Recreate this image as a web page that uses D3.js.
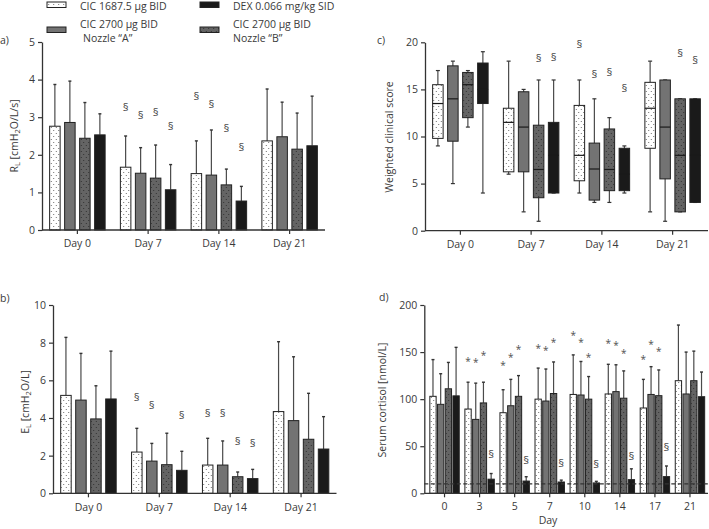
<!DOCTYPE html>
<html><head><meta charset="utf-8">
<script src="https://cdn.jsdelivr.net/npm/d3@7"></script>
<style>
html,body{margin:0;padding:0;background:#fff;}
svg{display:block;font-family:"Open Sans",sans-serif;}
</style></head>
<body>
<svg id="chart" width="709" height="529"></svg>
<script>
// ---------------- DATA ----------------
const seriesNames = ["CIC 1687.5 \u00b5g BID", "CIC 2700 \u00b5g BID|Nozzle \u201cA\u201d", "DEX 0.066 mg/kg SID", "CIC 2700 \u00b5g BID|Nozzle \u201cB\u201d"];
const dayGroups = ["Day 0", "Day 7", "Day 14", "Day 21"];

// a) RL: mean and upper error (mean+SD) per day, series order: CIC1687.5, CIC2700 A, CIC2700 B, DEX
const rlMean = [[2.76, 2.86, 2.44, 2.53], [1.67, 1.51, 1.38, 1.07], [1.50, 1.46, 1.20, 0.77], [2.37, 2.48, 2.15, 2.24]];
const rlUpper = [[3.87, 3.96, 3.39, 3.09], [2.50, 2.19, 2.26, 1.74], [2.37, 2.66, 1.62, 1.16], [3.75, 3.40, 3.11, 3.56]];
const rlSection = [[1, 0, 3.29], [1, 1, 3.06], [1, 2, 3.16], [1, 3, 2.77], [2, 0, 3.58], [2, 1, 3.36], [2, 2, 2.73], [2, 3, 2.21]];
const rlTicks = [0, 1, 2, 3, 4, 5];

// b) EL
const elMean = [[5.20, 4.95, 3.95, 5.01], [2.19, 1.71, 1.52, 1.22], [1.50, 1.50, 0.88, 0.78], [4.34, 3.86, 2.87, 2.35]];
const elUpper = [[8.28, 7.43, 5.71, 7.55], [3.45, 2.65, 3.19, 2.23], [2.92, 2.78, 1.13, 1.27], [8.05, 7.25, 5.31, 4.07]];
const elSection = [[1, 0, 5.13], [1, 1, 4.69], [1, 3, 4.16], [2, 0, 4.30], [2, 1, 4.30], [2, 2, 2.83], [2, 3, 2.70]];
const elTicks = [0, 2, 4, 6, 8, 10];

// c) Weighted clinical score boxes: [min, q1, median, q3, max]
const scoreBoxes = [
  [[9, 9.8, 13.5, 15.5, 17], [5, 9.5, 14, 17.5, 18], [11, 12, 15.5, 16.8, 17], [4, 13.5, 15, 17.8, 19]],
  [[6, 6.25, 11.5, 13, 18], [2, 6.25, 11, 14.75, 15], [1, 3.5, 6.5, 11.2, 16], [4, 4, 8, 11.5, 16]],
  [[4, 5.3, 8, 13.3, 16], [3, 3.25, 6.55, 9.3, 14], [3, 4.25, 6.5, 10.8, 12], [4, 4.25, 6, 8.75, 9]],
  [[2, 8.75, 13, 15.75, 18], [1, 5.5, 11, 16, 16], [2, 2, 8, 14, 14], [3, 3, 8, 14, 14]]
];
const scoreSection = [[1, 2, 18.4], [1, 3, 18.5], [2, 0, 19.9], [2, 1, 16.7], [2, 2, 16.95], [2, 3, 15.2], [3, 2, 18.9], [3, 3, 18.2]];
const scoreTicks = [0, 5, 10, 15, 20];

// d) Serum cortisol
const cortDays = ["0", "3", "5", "7", "10", "14", "17", "21"];
const cortMean = [[103, 94.5, 111, 103.5], [89.5, 78.5, 96, 15], [85.6, 93, 103, 13], [100, 98, 106, 12],
                  [105, 104.4, 100, 11], [105.5, 108, 101, 14.5], [90.6, 105, 103.7, 17.7], [119.6, 105.5, 119.6, 102.6]];
const cortUpper = [[142, 127, 139, 155], [118, 117, 118, 21], [110, 121, 125, 17.6], [133, 132, 139.5, 14],
                   [147, 140, 124, 12.7], [137, 136.5, 130, 26], [121, 134.5, 131, 29], [178.7, 150, 151, 128.8]];
const cortStars = [[1, 0, 144], [1, 1, 143], [1, 2, 150], [2, 0, 139], [2, 1, 148], [2, 2, 156],
                   [3, 0, 158], [3, 1, 155], [3, 2, 164], [4, 0, 171], [4, 1, 164], [4, 2, 148],
                   [5, 0, 162.5], [5, 1, 160.7], [5, 2, 152], [6, 0, 146], [6, 1, 161.7], [6, 2, 154.6]];
const cortSection = [[1, 3, 42.5], [2, 3, 36], [3, 3, 32.5], [4, 3, 32], [5, 3, 40.6], [6, 3, 49.5]];
const cortLimit = 10;
const cortTicks = [0, 50, 100, 150, 200];

// series order in the plots: 0 = CIC 1687.5, 1 = CIC 2700 A, 2 = CIC 2700 B, 3 = DEX
// ---------------- DRAWING ----------------
const svg = d3.select("#chart");
const TXT = "#3a3a3a", AX = "#333", MARK = "#505050";

const defs = svg.append("defs");
function dotPattern(id, bg, dot) {
  const p = defs.append("pattern").attr("id", id).attr("patternUnits", "userSpaceOnUse")
    .attr("width", 5).attr("height", 6);
  p.append("rect").attr("width", 5).attr("height", 6).attr("fill", bg);
  p.append("circle").attr("cx", 1.25).attr("cy", 1.5).attr("r", 0.5).attr("fill", dot);
  p.append("circle").attr("cx", 3.75).attr("cy", 4.5).attr("r", 0.5).attr("fill", dot);
}
dotPattern("pWhite", "#ffffff", "#444");
dotPattern("pGray", "#646464", "#222");
const fills = ["url(#pWhite)", "#737373", "url(#pGray)", "#1a1a1a"];

function axes(g, xs, ys, ticks, opt) {
  const r0 = ys.range()[0];
  const ya = g.append("g").attr("transform", `translate(${opt.yAxisX},0)`)
    .call(d3.axisLeft(ys).tickValues(ticks).tickFormat(d3.format("d")).tickSize(4).tickPadding(3).tickSizeOuter(0));
  ya.select(".domain").attr("stroke", AX).attr("stroke-width", 1.3);
  ya.selectAll(".tick line").attr("stroke", AX).attr("stroke-width", 1.2);
  ya.selectAll("text").attr("fill", TXT).attr("font-size", 10.5).attr("font-family", "Open Sans");
  const xa = g.append("g").attr("transform", `translate(0,${r0})`)
    .call(d3.axisBottom(xs).tickSize(4).tickPadding(opt.xPad || 6).tickSizeOuter(0));
  xa.select(".domain").attr("d", `M${opt.yAxisX},0H${opt.xEnd}`).attr("stroke", AX).attr("stroke-width", 1.3);
  xa.selectAll(".tick line").attr("stroke", AX).attr("stroke-width", 1.2);
  xa.selectAll("text").attr("fill", TXT).attr("font-size", 10.5).attr("font-family", "Open Sans");
}

function barPanel(opt) {
  const g = svg.append("g");
  const xs = d3.scaleBand().domain(opt.groups).range(opt.xRange);
  const inner = d3.scaleBand().domain([0, 1, 2, 3]).range(opt.innerRange).paddingInner(opt.pI).paddingOuter(opt.pO);
  const ys = d3.scaleLinear().domain([0, opt.max]).range(opt.yRange);
  const bx = (gi, si) => xs(opt.groups[gi]) + xs.bandwidth() / 2 + inner(si);
  const data = [];
  opt.means.forEach((row, gi) => row.forEach((v, si) => data.push({gi, si, v, u: opt.uppers[gi][si]})));
  g.selectAll(".err").data(data).join("g").each(function (d) {
    const cx = bx(d.gi, d.si) + inner.bandwidth() / 2;
    const e = d3.select(this);
    e.append("line").attr("x1", cx).attr("x2", cx).attr("y1", ys(d.v)).attr("y2", ys(d.u))
      .attr("stroke", "#4a4a4a").attr("stroke-width", 1.2);
    e.append("line").attr("x1", cx - 1.5).attr("x2", cx + 1.5).attr("y1", ys(d.u)).attr("y2", ys(d.u))
      .attr("stroke", "#333").attr("stroke-width", 1.4);
  });
  g.selectAll(".bar").data(data).join("rect")
    .attr("x", d => bx(d.gi, d.si)).attr("width", inner.bandwidth())
    .attr("y", d => ys(d.v)).attr("height", d => ys(0) - ys(d.v))
    .attr("fill", d => fills[d.si]).attr("stroke", "#222").attr("stroke-width", 1);
  if (opt.limit !== undefined) {
    g.append("line").attr("x1", opt.yAxisX).attr("x2", opt.xEnd)
      .attr("y1", ys(opt.limit)).attr("y2", ys(opt.limit))
      .attr("stroke", "#333").attr("stroke-width", 1.4).attr("stroke-dasharray", "4,2.5");
  }
  (opt.marks || []).forEach(m => {
    g.append("text").attr("x", bx(m[0], m[1]) + inner.bandwidth() / 2).attr("y", ys(m[2]))
      .attr("text-anchor", "middle").attr("dominant-baseline", "central")
      .attr("font-size", 11.5).attr("fill", MARK).text("\u00a7");
  });
  (opt.stars || []).forEach(m => {
    g.append("text").attr("x", bx(m[0], m[1]) + inner.bandwidth() / 2).attr("y", ys(m[2]) + 3)
      .attr("text-anchor", "middle").attr("dominant-baseline", "central")
      .attr("font-size", 10).attr("fill", MARK).text("*");
  });
  axes(g, xs, ys, opt.ticks, opt);
  return g;
}

// a)
barPanel({groups: dayGroups, xRange: [42, 325], innerRange: [-30, 30], pI: 0.3, pO: 0.15,
  max: 5, yRange: [230, 42], means: rlMean, uppers: rlUpper, marks: rlSection, ticks: rlTicks,
  yAxisX: 42, xEnd: 325});
// b)
barPanel({groups: dayGroups, xRange: [53, 336.5], innerRange: [-30, 30], pI: 0.3, pO: 0.15,
  max: 10, yRange: [493.3, 305], means: elMean, uppers: elUpper, marks: elSection, ticks: elTicks,
  yAxisX: 53, xEnd: 336.5});
// d)
barPanel({groups: cortDays, xRange: [427, 707.5], innerRange: [-15.4, 15.4], pI: 0.18, pO: 0.09,
  max: 200, yRange: [493.3, 305], means: cortMean, uppers: cortUpper, marks: cortSection, stars: cortStars,
  ticks: cortTicks, yAxisX: 424.3, xEnd: 708, limit: cortLimit, xPad: 5});

// c) box plot
(function () {
  const g = svg.append("g");
  const xs = d3.scaleBand().domain(dayGroups).range([425, 708]);
  const inner = d3.scaleBand().domain([0, 1, 2, 3]).range([-30, 30]).paddingInner(0.3).paddingOuter(0.15);
  const ys = d3.scaleLinear().domain([0, 20]).range([230.7, 42.3]);
  const bx = (gi, si) => xs(dayGroups[gi]) + xs.bandwidth() / 2 + inner(si);
  const w = inner.bandwidth();
  scoreBoxes.forEach((row, gi) => row.forEach((b, si) => {
    const x = bx(gi, si), cx = x + w / 2;
    const [mn, q1, md, q3, mx] = b;
    const e = g.append("g");
    e.append("line").attr("x1", cx).attr("x2", cx).attr("y1", ys(mn)).attr("y2", ys(mx))
      .attr("stroke", "#4a4a4a").attr("stroke-width", 1.2);
    [mn, mx].forEach(v => e.append("line").attr("x1", cx - 2).attr("x2", cx + 2).attr("y1", ys(v)).attr("y2", ys(v))
      .attr("stroke", "#333").attr("stroke-width", 1.2));
    e.append("rect").attr("x", x).attr("width", w).attr("y", ys(q3)).attr("height", ys(q1) - ys(q3))
      .attr("fill", fills[si]).attr("stroke", "#222").attr("stroke-width", 1);
    e.append("line").attr("x1", x).attr("x2", x + w).attr("y1", ys(md)).attr("y2", ys(md))
      .attr("stroke", "#1a1a1a").attr("stroke-width", 1.2);
  }));
  scoreSection.forEach(m => {
    g.append("text").attr("x", bx(m[0], m[1]) + w / 2).attr("y", ys(m[2]))
      .attr("text-anchor", "middle").attr("dominant-baseline", "central")
      .attr("font-size", 11.5).attr("fill", MARK).text("\u00a7");
  });
  axes(g, xs, ys, scoreTicks, {yAxisX: 425, xEnd: 708});
})();

// axis titles
function rotTitle(x, y, parts) {
  const t = svg.append("text").attr("transform", `translate(${x},${y}) rotate(-90)`)
    .attr("text-anchor", "middle").attr("font-size", 10.5).attr("fill", TXT);
  parts.forEach(p => {
    const s = t.append("tspan").text(p[0]);
    if (p[1] === "sub") s.attr("font-size", 7.5).attr("baseline-shift", "-25%");
  });
}
rotTitle(18, 136, [["R"], ["L", "sub"], [" [cmH"], ["2", "sub"], ["O/L/s]"]]);
rotTitle(29, 402, [["E"], ["L", "sub"], [" [cmH"], ["2", "sub"], ["O/L]"]]);
rotTitle(393, 137, [["Weighted clinical score"]]);
rotTitle(386, 400, [["Serum cortisol [nmol/L]"]]);
svg.append("text").attr("x", 548).attr("y", 524).attr("text-anchor", "middle")
  .attr("font-size", 10.5).attr("fill", TXT).text("Day");

// panel letters
[["a)", 0, 44], ["b)", 0, 302], ["c)", 377, 44], ["d)", 379, 301]].forEach(p =>
  svg.append("text").attr("x", p[1]).attr("y", p[2]).attr("font-size", 10.5).attr("fill", TXT).text(p[0]));

// legend
const legendPos = [[47, 2, 80, [9.5]], [47, 27, 80, [28, 42]], [200, 2, 233, [9.5]], [200, 27, 233, [28, 42]]];
const legendFill = [fills[0], fills[1], fills[3], fills[2]];
seriesNames.forEach((name, i) => {
  const [sx, sy, tx, bl] = legendPos[i];
  svg.append("rect").attr("x", sx).attr("y", sy).attr("width", 19).attr("height", 5.5)
    .attr("fill", legendFill[i]).attr("stroke", "#222").attr("stroke-width", 1);
  name.split("|").forEach((line, li) => {
    svg.append("text").attr("x", tx + (li === 1 && i === 1 ? 3 : 0)).attr("y", bl[li])
      .attr("font-size", 10.5).attr("fill", TXT).text(line);
  });
});
</script>
</body></html>
